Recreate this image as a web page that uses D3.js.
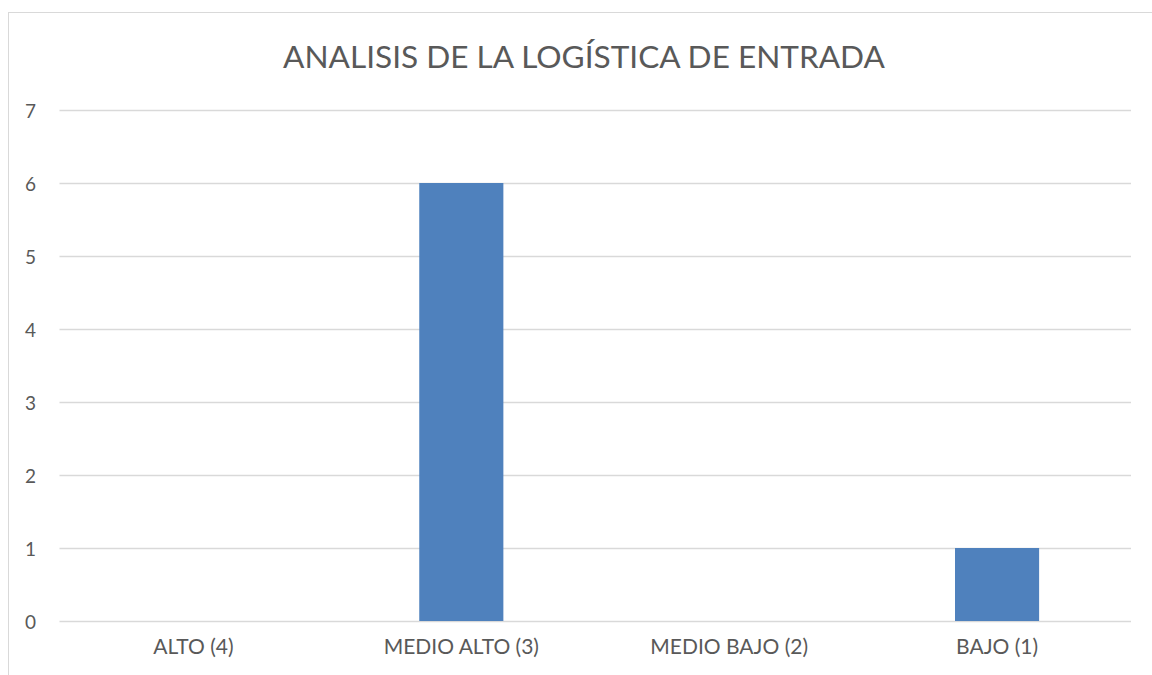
<!DOCTYPE html>
<html><head><meta charset="utf-8">
<script src="https://cdn.jsdelivr.net/npm/d3@7"></script>
<style>html,body{margin:0;padding:0;background:#fff;overflow:hidden}</style>
</head><body>
<script>
const title = "ANALISIS DE LA LOGÍSTICA DE ENTRADA";
const categories = ["ALTO (4)", "MEDIO ALTO (3)", "MEDIO BAJO (2)", "BAJO (1)"];
const values = [0, 6, 0, 1];
const yTicks = [0, 1, 2, 3, 4, 5, 6, 7];

const W = 1152, H = 675;
const svg = d3.select("body").append("svg").attr("width", W).attr("height", H)
  .style("font-family", "Lato, 'Open Sans', sans-serif");

svg.append("rect").attr("x", 8.5).attr("y", 12.5).attr("width", 1160).attr("height", 700)
  .attr("fill", "#fff").attr("stroke", "#d9d9d9").attr("stroke-width", 1);

const x = d3.scaleBand().domain(categories).range([59.5, 1131]).paddingInner(0.686).paddingOuter(0.343);
const y = d3.scaleLinear().domain([0, 7]).range([621, 110]);

// gridlines
svg.append("g").selectAll("line").data(yTicks).join("line")
  .attr("x1", 59.5).attr("x2", 1131)
  .attr("y1", d => Math.round(y(d)) + 0.5).attr("y2", d => Math.round(y(d)) + 0.5)
  .attr("stroke", "#d9d9d9").attr("stroke-width", 1.5);

// y axis
const yAxis = d3.axisLeft(y).tickValues(yTicks).tickFormat(d3.format("d")).tickSize(0).tickPadding(0);
const gy = svg.append("g").attr("transform", "translate(36,0)").call(yAxis);
gy.select(".domain").remove();
gy.selectAll("text").attr("fill", "#595959").style("font-size", "19px").style("font-family", "Lato, sans-serif").attr("dy", "0.4em");

// bars
svg.append("g").selectAll("rect").data(categories).join("rect")
  .attr("x", d => x(d)).attr("width", x.bandwidth())
  .attr("y", (d, i) => y(values[i])).attr("height", (d, i) => y(0) - y(values[i]))
  .attr("fill", "#4f81bd");

// x axis
const xAxis = d3.axisBottom(x).tickSize(0).tickPadding(0);
const gx = svg.append("g").attr("transform", "translate(0,638)").call(xAxis);
gx.select(".domain").remove();
gx.selectAll("text").attr("fill", "#595959").style("font-size", "21px").style("font-family", "Lato, sans-serif").attr("dy", "0.75em");

// title
const t = svg.append("text").attr("x", 584).attr("y", 68).attr("text-anchor", "middle")
  .attr("fill", "#595959").style("font-size", "32px").text(title);
const len = t.node().getComputedTextLength();
t.style("font-size", (32 * 602 / len).toFixed(2) + "px");
</script>
</body></html>
